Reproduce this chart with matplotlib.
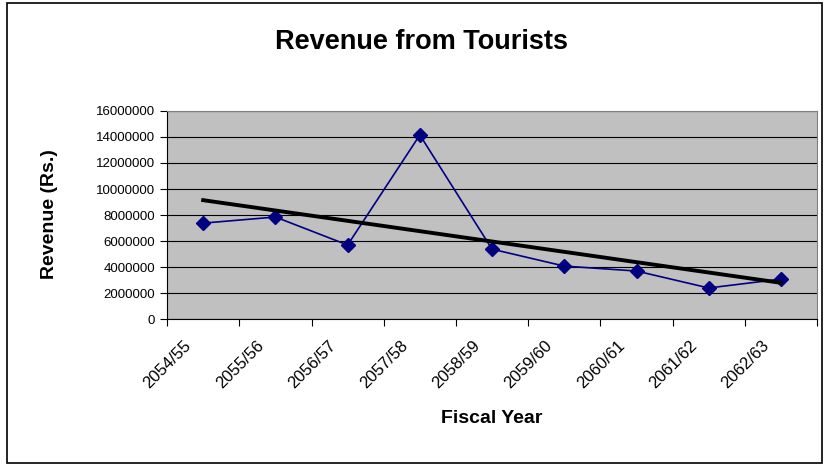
import matplotlib
matplotlib.use('Agg')
import matplotlib.pyplot as plt
import matplotlib.transforms as mtransforms
import numpy as np
from matplotlib.patches import Rectangle

plt.rcParams['font.family'] = ['Liberation Sans', 'DejaVu Sans']

years = ['2054/55', '2055/56', '2056/57', '2057/58', '2058/59',
         '2059/60', '2060/61', '2061/62', '2062/63']
revenue = [7380000, 7850000, 5700000, 14150000, 5380000,
           4080000, 3700000, 2400000, 3080000]

fig = plt.figure(figsize=(8.27, 4.66), dpi=100)
fig.patches.append(Rectangle((0.009, 0.006), 0.985, 0.988, transform=fig.transFigure,
                             fill=False, edgecolor='black', linewidth=1.2))
ax = fig.add_axes([0.202, 0.315, 0.786, 0.447])
ax.set_facecolor('#C0C0C0')

x = np.arange(len(years))
ax.plot(x, revenue, color='#000080', marker='D', markersize=7, linewidth=1.2, zorder=3)
# linear trend line
coef = np.polyfit(x, revenue, 1)
ax.plot(x, np.polyval(coef, x), color='black', linewidth=2.8, zorder=4)

ax.set_xlim(-0.5, len(years) - 0.5)
ax.set_ylim(0, 16000000)
ax.set_yticks(np.arange(0, 16000001, 2000000))
ax.set_yticklabels([f'{int(v)}' for v in np.arange(0, 16000001, 2000000)], fontsize=9.5)
ax.yaxis.grid(True, color='black', linewidth=0.8)
ax.set_axisbelow(True)

ax.set_xticks(np.arange(-0.5, len(years)), minor=False)
ax.set_xticklabels([])
ax.set_xticks(x, minor=True)
ax.set_xticklabels(years, minor=True, rotation=45, ha='right', va='top', fontsize=12)
ax.tick_params(axis='x', which='minor', length=0, pad=13.5)
ax.tick_params(axis='x', which='major', length=5)
ax.tick_params(axis='y', length=5)
shift = mtransforms.ScaledTranslation(-0.09, 0, fig.dpi_scale_trans)
for lbl in ax.get_xticklabels(minor=True):
    lbl.set_transform(lbl.get_transform() + shift)

for side in ('top', 'right'):
    ax.spines[side].set_color('#808080')
for side in ('left', 'bottom'):
    ax.spines[side].set_color('black')

fig.text(0.51, 0.91, 'Revenue from Tourists', ha='center', va='center', fontsize=19.5, fontweight='bold')
fig.text(0.06, 0.54, 'Revenue (Rs.)', ha='center', va='center', rotation=90, fontsize=14, fontweight='bold')
fig.text(0.594, 0.103, 'Fiscal Year', ha='center', va='center', fontsize=14, fontweight='bold')

fig.savefig('out.png', dpi=100)
